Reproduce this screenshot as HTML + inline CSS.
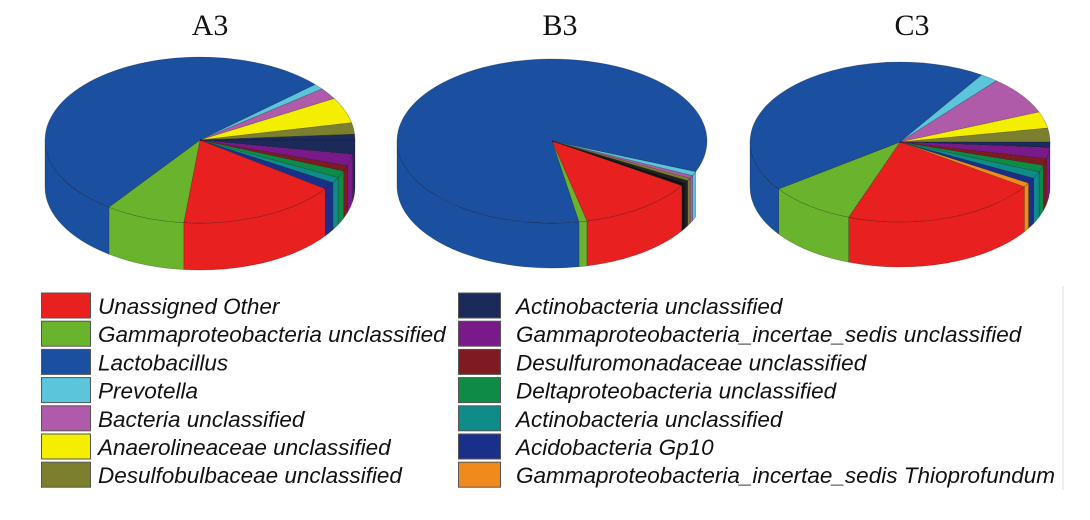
<!DOCTYPE html>
<html><head><meta charset="utf-8"><style>
html,body{margin:0;padding:0;background:#fff;width:1090px;height:520px;overflow:hidden}
</style></head><body>
<svg id="s" width="1090" height="520" xmlns="http://www.w3.org/2000/svg">
<rect width="1090" height="520" fill="#fff"/>
<g font-family="Liberation Serif, serif" font-size="30" fill="#111" text-anchor="middle">
<text x="210" y="35">A3</text><text x="560" y="35">B3</text><text x="912" y="35">C3</text>
</g>
<line x1="1063" y1="286" x2="1063" y2="490" stroke="#ddd" stroke-width="1"/>
<g id="pies"></g>
<g id="leg" font-family="Liberation Sans, sans-serif" font-style="italic" font-size="22.5" fill="#111"></g>
</svg>
<script>
var C={red:"#e8201f",grn:"#6ab42d",blu:"#1b4fa0",lb:"#5bc5db",pk:"#b05aaa",yl:"#f4ee00",ol:"#7b7f2e",
an:"#1c2a5a",pu:"#7a1a8a",dr:"#7d1a22",dg:"#0e8b45",tl:"#0f8b8a",ac:"#1a2f8a",or:"#f08a1c"};
function pie(cx,cy,rx,ry,d,sl){
  var g=document.getElementById('pies'),out="";
  function P(t,dy){t=t*Math.PI/180;return (cx+rx*Math.cos(t)).toFixed(2)+","+(cy+dy+ry*Math.sin(t)).toFixed(2);}
  sl.forEach(function(s){
    var a=Math.max(s[0],0),b=Math.min(s[1],180);
    if(b<=a)return;
    var la=(b-a)>180?1:0;
    out+='<path d="M'+P(a,0)+' A'+rx+','+ry+' 0 '+la+',1 '+P(b,0)+' L'+P(b,d)+' A'+rx+','+ry+' 0 '+la+',0 '+P(a,d)+' Z" fill="'+s[2]+'" stroke="rgba(0,0,0,0.35)" stroke-width="0.6"/>';
  });
  sl.forEach(function(s){
    var la=(s[1]-s[0])>180?1:0;
    out+='<path d="M'+cx+','+cy+' L'+P(s[0],0)+' A'+rx+','+ry+' 0 '+la+',1 '+P(s[1],0)+' Z" fill="'+s[2]+'" stroke="rgba(0,0,0,0.3)" stroke-width="0.6"/>';
  });
  g.innerHTML+=out;
}
pie(200,140,155,83,47,[
 [36,96,C.red],[96,126,C.grn],[126,318,C.blu],[318,322,C.lb],[322,330,C.pk],[330,348,C.yl],[348,356,C.ol],
 [356,360,C.an],[0,10,C.an],[10,18,C.pu],[18,22,C.dr],[22,27,C.dg],[27,31,C.tl],[31,36,C.ac]]);
pie(552,141,155,82,45,[
 [33,77,C.red],[77,80,C.grn],[80,382,C.blu],[22,25,C.lb],[25,27,C.pk],[27,29,C.ol],[29,31,"#222"],[31,33,"#111"]]);
pie(900,142,150,80,45,[
 [34,110,C.red],[110,144,C.grn],[144,303,C.blu],[303,310,C.lb],[310,338,C.pk],[338,350,C.yl],[350,360,C.ol],
 [0,4,C.an],[4,12,C.pu],[12,17,C.dr],[17,22,C.dg],[22,27,C.tl],[27,31,C.ac],[31,34,C.or]]);
var L=[["Unassigned Other",C.red],["Gammaproteobacteria unclassified",C.grn],["Lactobacillus",C.blu],["Prevotella",C.lb],
["Bacteria unclassified",C.pk],["Anaerolineaceae unclassified",C.yl],["Desulfobulbaceae unclassified",C.ol]];
var R=[["Actinobacteria unclassified",C.an],["Gammaproteobacteria_incertae_sedis unclassified",C.pu],["Desulfuromonadaceae unclassified",C.dr],
["Deltaproteobacteria unclassified",C.dg],["Actinobacteria unclassified",C.tl],["Acidobacteria Gp10",C.ac],["Gammaproteobacteria_incertae_sedis Thioprofundum",C.or]];
var lg="";
L.forEach(function(r,i){var y=293+i*28.2;
 lg+='<rect x="41.5" y="'+y+'" width="49" height="25" fill="'+r[1]+'" stroke="#555" stroke-width="1"/>';
 lg+='<text x="98" y="'+(y+21)+'">'+r[0]+'</text>';});
R.forEach(function(r,i){var y=293+i*28.2;
 lg+='<rect x="458.5" y="'+y+'" width="42" height="25" fill="'+r[1]+'" stroke="#555" stroke-width="1"/>';
 lg+='<text x="516" y="'+(y+21)+'">'+r[0]+'</text>';});
document.getElementById('leg').innerHTML=lg;
</script>
</body></html>
